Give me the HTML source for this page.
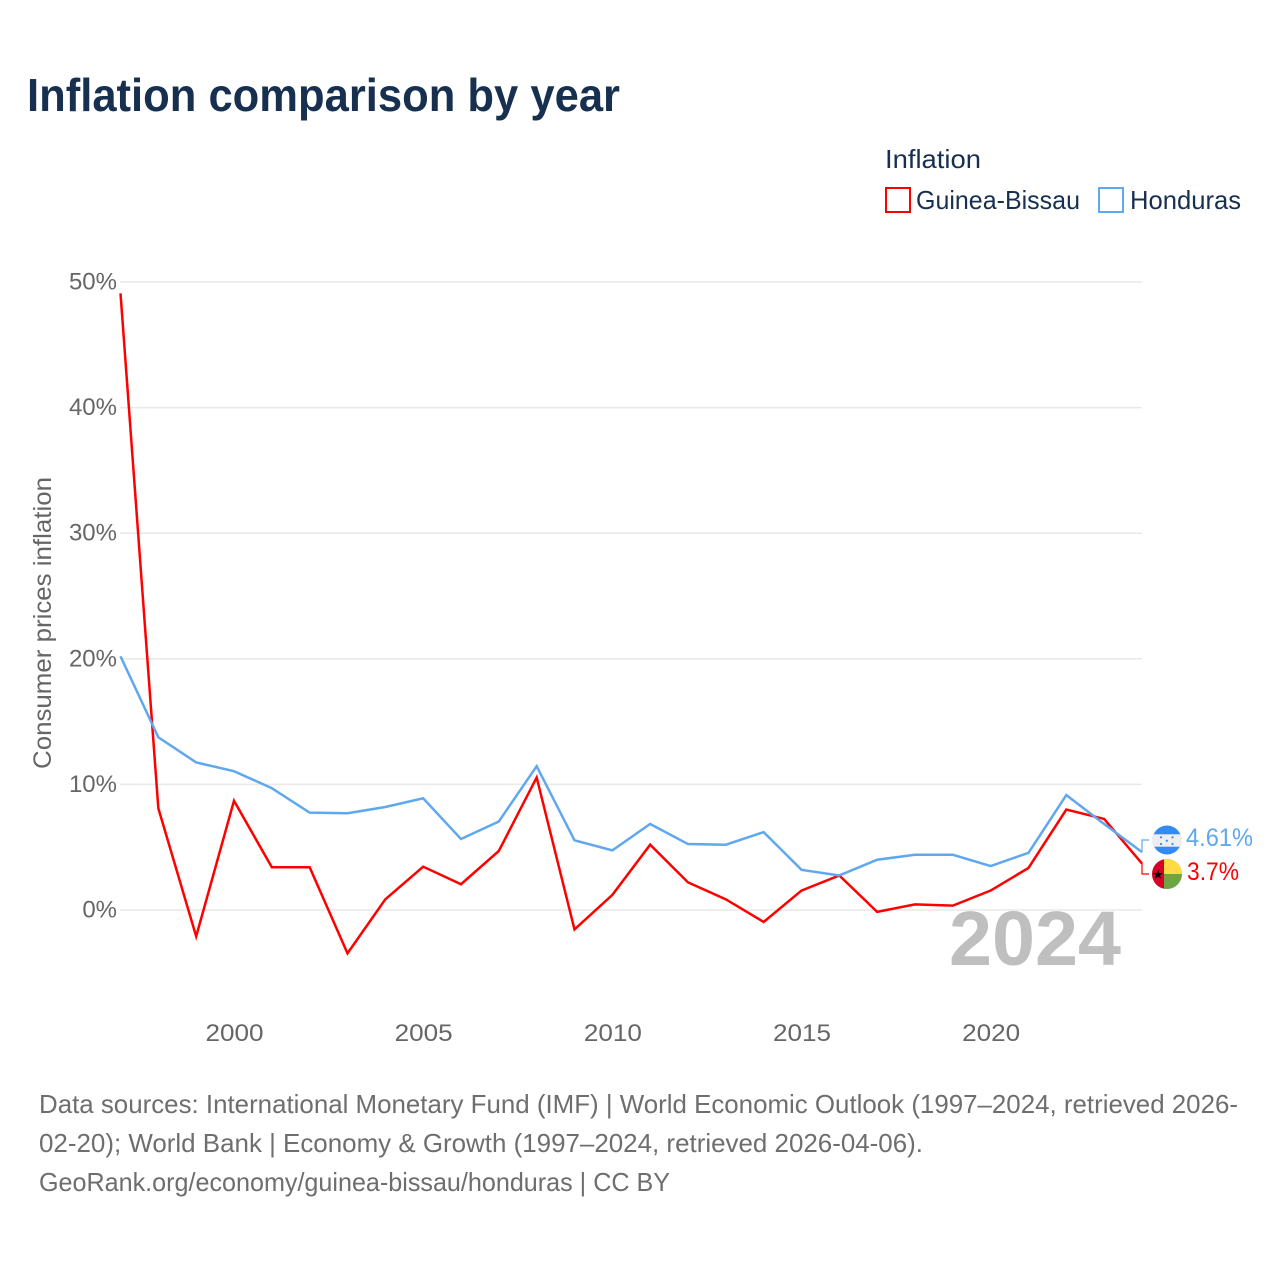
<!DOCTYPE html>
<html lang="en">
<head>
<meta charset="utf-8">
<title>Inflation comparison by year</title>
<style>
html,body{margin:0;padding:0;background:#fff}
svg{display:block;font-family:"Liberation Sans",sans-serif}
</style>
</head>
<body>
<svg id="chart" xmlns="http://www.w3.org/2000/svg" width="1280" height="1280" viewBox="0 0 1280 1280">
  <rect width="1280" height="1280" fill="#fff"/>
  <text x="27" y="111" font-size="46" font-weight="700" fill="#18304f" textLength="593" lengthAdjust="spacingAndGlyphs">Inflation comparison by year</text>

  <g>
    <text x="885" y="168" font-size="26" fill="#18304f" textLength="96" lengthAdjust="spacingAndGlyphs">Inflation</text>
    <g>
      <rect x="886" y="188" width="24" height="24" fill="#fff" stroke="#ff0000" stroke-width="2"/>
      <text x="916" y="209" font-size="26" fill="#18304f" textLength="164" lengthAdjust="spacingAndGlyphs">Guinea-Bissau</text>
    </g>
    <g>
      <rect x="1099" y="188" width="24" height="24" fill="#fff" stroke="#5fa8f0" stroke-width="2"/>
      <text x="1130" y="209" font-size="26" fill="#18304f" textLength="111" lengthAdjust="spacingAndGlyphs">Honduras</text>
    </g>
  </g>

  <text transform="translate(51,769) rotate(-90)" x="0" y="0" font-size="25" fill="#666" textLength="292" lengthAdjust="spacingAndGlyphs">Consumer prices inflation</text>

  <g id="grid"></g>
  <g id="ylabels"></g>
  <g id="xlabels"></g>

  <text x="949" y="965" font-size="77" font-weight="700" fill="#bfbfbf" textLength="172" lengthAdjust="spacingAndGlyphs">2024</text>

  <g id="series"></g>

  <g>
    <defs>
      <clipPath id="clip-hn"><circle cx="1167" cy="840" r="14.5"/></clipPath>
      <clipPath id="clip-gw"><circle cx="1167" cy="874" r="15"/></clipPath>
    </defs>
    <g clip-path="url(#clip-hn)">
      <rect x="1152" y="825" width="30" height="30" fill="#338af3"/>
      <rect x="1152" y="834.3" width="30" height="12.4" fill="#eeeeee"/>
      <g fill="#338af3">
        <circle cx="1161" cy="837.3" r="1.1"/><circle cx="1172.5" cy="837.3" r="1.1"/>
        <circle cx="1166.8" cy="840.7" r="1.1"/>
        <circle cx="1161" cy="844" r="1.1"/><circle cx="1172.5" cy="844" r="1.1"/>
      </g>
    </g>
    <text id="label-hn" x="1186" y="846" font-size="25" fill="#5fa8f0" textLength="67" lengthAdjust="spacingAndGlyphs"></text>
  </g>
  <g>
    <g clip-path="url(#clip-gw)">
      <rect x="1152" y="859" width="30" height="30" fill="#6da544"/>
      <rect x="1164" y="859" width="18" height="15" fill="#ffda44"/>
      <rect x="1152" y="859" width="12" height="30" fill="#d80027"/>
      <polygon points="1158,869.5 1159.3,873 1163,873 1160,875.2 1161.1,878.8 1158,876.6 1154.9,878.8 1156,875.2 1153,873 1156.7,873" fill="#000"/>
    </g>
    <text id="label-gw" x="1187" y="880" font-size="25" fill="#ff0000" textLength="52" lengthAdjust="spacingAndGlyphs"></text>
  </g>

  <g font-size="26" fill="#6e6e6e">
    <text x="39" y="1113" textLength="1199" lengthAdjust="spacingAndGlyphs">Data sources: International Monetary Fund (IMF) | World Economic Outlook (1997–2024, retrieved 2026-</text>
    <text x="39" y="1152" textLength="884" lengthAdjust="spacingAndGlyphs">02-20); World Bank | Economy &amp; Growth (1997–2024, retrieved 2026-04-06).</text>
    <text x="39" y="1191" textLength="631" lengthAdjust="spacingAndGlyphs">GeoRank.org/economy/guinea-bissau/honduras | CC BY</text>
  </g>
</svg>
<script>
const years = [1997,1998,1999,2000,2001,2002,2003,2004,2005,2006,2007,2008,2009,2010,2011,2012,2013,2014,2015,2016,2017,2018,2019,2020,2021,2022,2023,2024];
const guineaBissau = [49.1,8.1,-2.1,8.7,3.4,3.4,-3.45,0.85,3.45,2.05,4.7,10.55,-1.55,1.2,5.2,2.2,0.85,-0.95,1.55,2.75,-0.15,0.45,0.35,1.55,3.35,8.0,7.25,3.7];
const honduras = [20.2,13.75,11.75,11.05,9.7,7.75,7.7,8.2,8.9,5.65,7.05,11.45,5.55,4.75,6.85,5.25,5.2,6.2,3.2,2.75,4.0,4.4,4.4,3.5,4.55,9.15,6.85,4.61];
const yTicks = [0,10,20,30,40,50];
const xTicks = [2000,2005,2010,2015,2020];
const endLabels = ['3.7%','4.61%'];

const NS = 'http://www.w3.org/2000/svg';
const xScale = function (year) { return 120.5 + (year - 1997) * (1142 - 120.5) / 27; };
const yScale = function (value) { return 910 - value * 12.56; };

function make(tag, attrs, parent) {
  const el = document.createElementNS(NS, tag);
  Object.keys(attrs).forEach(function (k) { el.setAttribute(k, attrs[k]); });
  parent.appendChild(el);
  return el;
}

const grid = document.getElementById('grid');
const ylabels = document.getElementById('ylabels');
yTicks.forEach(function (t) {
  const line = make('line', {x1: 120, x2: 1142, y1: yScale(t), y2: yScale(t), stroke: '#e9e9e9', 'stroke-width': 1.5}, grid);
  
  
  const label = make('text', {x: 117, y: yScale(t) + 7.5, 'text-anchor': 'end', 'font-size': 24, fill: '#666'}, ylabels);
  
  
  label.textContent = t + '%';
});

const xlabels = document.getElementById('xlabels');
xTicks.forEach(function (t) {
  const label = make('text', {x: xScale(t) + 0.5, y: 1041, 'text-anchor': 'middle', 'font-size': 24, fill: '#666', textLength: 58, lengthAdjust: 'spacingAndGlyphs'}, xlabels);
  
  
  label.textContent = t;
});

function pathFor(values) {
  return values.map(function (v, i) {
    return (i ? 'L' : 'M') + xScale(years[i]).toFixed(2) + ' ' + yScale(v).toFixed(2);
  }).join(' ');
}

const series = document.getElementById('series');
const lineGw = make('path', {d: pathFor(guineaBissau), fill: 'none', stroke: '#ff0000', 'stroke-width': 2.5, 'stroke-linejoin': 'miter'}, series);


const lineHn = make('path', {d: pathFor(honduras), fill: 'none', stroke: '#5fa8f0', 'stroke-width': 2.5, 'stroke-linejoin': 'miter'}, series);



const lastX = xScale(years[years.length - 1]);
const connGw = make('path', {d: 'M' + lastX + ' ' + yScale(guineaBissau[guineaBissau.length - 1]) + ' V874 H1149', fill: 'none', stroke: '#ff0000', 'stroke-width': 1.2}, series);


const connHn = make('path', {d: 'M' + lastX + ' ' + yScale(honduras[honduras.length - 1]) + ' V840 H1149', fill: 'none', stroke: '#5fa8f0', 'stroke-width': 1.2}, series);



document.getElementById('label-gw').textContent = endLabels[0];
document.getElementById('label-hn').textContent = endLabels[1];
</script>
</body>
</html>
